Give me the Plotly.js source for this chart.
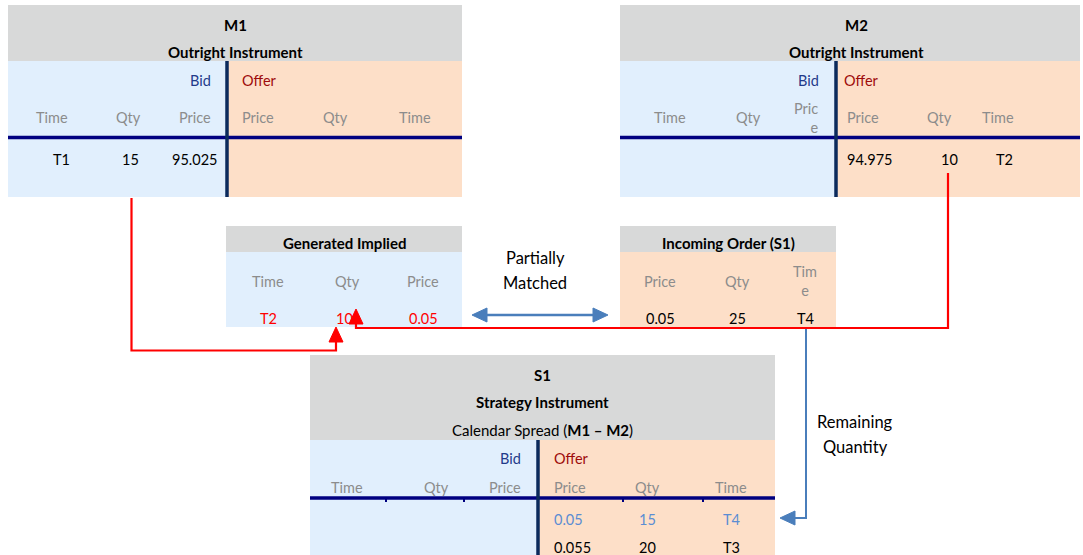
<!DOCTYPE html>
<html>
<head>
<meta charset="utf-8">
<script src="https://cdn.plot.ly/plotly-3.0.1.min.js"></script>
<style>html,body{margin:0;padding:0;background:#fff;}#chart{width:1083px;height:555px;}</style>
</head>
<body>
<div id="chart"></div>
<script>
// ---------- data ----------
const m1Title = 'M1';
const m2Title = 'M2';
const outrightSub = 'Outright Instrument';
const sideLabels = ['Bid', 'Offer'];
const bidHeaders = ['Time', 'Qty', 'Price'];
const offerHeaders = ['Price', 'Qty', 'Time'];
const m2BidHeaders = ['Time', 'Qty', 'Pric<br>e'];
const m1BidRow = ['T1', '15', '95.025'];
const m2OfferRow = ['94.975', '10', 'T2'];
const impliedTitle = 'Generated Implied';
const impliedHeaders = ['Time', 'Qty', 'Price'];
const impliedRow = ['T2', '10', '0.05'];
const incomingTitle = 'Incoming Order (S1)';
const incomingHeaders = ['Price', 'Qty', 'Tim<br>e'];
const incomingRow = ['0.05', '25', 'T4'];
const s1Title = 'S1';
const s1Sub = 'Strategy Instrument';
const s1Desc = 'Calendar Spread (<b>M1 – M2</b>)';
const s1OfferRemaining = ['0.05', '15', 'T4'];
const s1OfferResting = ['0.055', '20', 'T3'];
const matchLabel = ['Partially', 'Matched'];
const remainLabel = ['Remaining', 'Quantity'];

// ---------- styles ----------
const FONT = 'Lato, "Open Sans", sans-serif';
const GRAY_BG = '#d8d9d9', BLUE_BG = '#e1effd', PEACH_BG = '#fddfc8';
const HDR = '#8c8c8c', BIDC = '#1f3a8a', OFFC = '#9e0b0b';
const NAVY_H = '#000080', NAVY_V = '#0b2a5c';
const RED = '#ff0000', ARROW_BLUE = '#4a7ebb', ROW_BLUE = '#5b8dd3';

const annotations = [];
function txt(text, x, y, opt) {
  opt = opt || {};
  annotations.push({
    text: text, x: x, y: y, xref: 'x', yref: 'y', showarrow: false,
    xanchor: opt.anchor || 'center', yanchor: 'middle',
    align: opt.align || (opt.anchor === 'right' ? 'right' : (opt.anchor === 'left' ? 'left' : 'center')),
    font: {family: FONT, size: opt.size || 14.5, color: opt.color || '#000'}
  });
}
const shapes = [];
function rect(x0, y0, x1, y1, color) {
  shapes.push({type: 'rect', xref: 'x', yref: 'y', x0: x0, y0: y0, x1: x1, y1: y1,
    fillcolor: color, line: {width: 0}, layer: 'below'});
}
function line(x0, y0, x1, y1, color, w) {
  shapes.push({type: 'line', xref: 'x', yref: 'y', x0: x0, y0: y0, x1: x1, y1: y1,
    line: {color: color, width: w}});
}
function path(d, color, w, fill) {
  shapes.push({type: 'path', xref: 'x', yref: 'y', path: d,
    line: {color: color, width: w}, fillcolor: fill || 'rgba(0,0,0,0)'});
}

// ---------- M1 ----------
rect(8, 5, 462, 61, GRAY_BG);
rect(8, 61, 227, 197, BLUE_BG);
rect(227, 61, 462, 197, PEACH_BG);
line(8, 137.5, 462, 137.5, NAVY_H, 3.5);
line(227, 61, 227, 197, NAVY_V, 3.5);
txt('<b>' + m1Title + '</b>', 235, 25, {size: 15});
txt('<b>' + outrightSub + '</b>', 235, 52, {size: 15});
txt(sideLabels[0], 213, 80, {anchor: 'right', color: BIDC});
txt(sideLabels[1], 240, 80, {anchor: 'left', color: OFFC});
txt(bidHeaders[0], 52, 117, {color: HDR});
txt(bidHeaders[1], 128, 117, {color: HDR});
txt(bidHeaders[2], 213, 117, {anchor: 'right', color: HDR});
txt(offerHeaders[0], 240, 117, {anchor: 'left', color: HDR});
txt(offerHeaders[1], 335, 117, {color: HDR});
txt(offerHeaders[2], 415, 117, {color: HDR});
txt(m1BidRow[0], 61, 159);
txt(m1BidRow[1], 130, 159);
txt(m1BidRow[2], 219, 159, {anchor: 'right'});

// ---------- M2 ----------
rect(620, 5, 1080, 61, GRAY_BG);
rect(620, 61, 836, 197, BLUE_BG);
rect(836, 61, 1080, 197, PEACH_BG);
line(620, 137.5, 1080, 137.5, NAVY_H, 3.5);
line(836, 61, 836, 197, NAVY_V, 3.5);
txt('<b>' + m2Title + '</b>', 856, 25, {size: 15});
txt('<b>' + outrightSub + '</b>', 856, 52, {size: 15});
txt(sideLabels[0], 821, 80, {anchor: 'right', color: BIDC});
txt(sideLabels[1], 842, 80, {anchor: 'left', color: OFFC});
txt(m2BidHeaders[0], 670, 117, {color: HDR});
txt(m2BidHeaders[1], 748, 117, {color: HDR});
txt(m2BidHeaders[2], 821, 118, {anchor: 'right', color: HDR});
txt(offerHeaders[0], 845, 117, {anchor: 'left', color: HDR});
txt(offerHeaders[1], 939, 117, {color: HDR});
txt(offerHeaders[2], 998, 117, {color: HDR});
txt(m2OfferRow[0], 845, 159, {anchor: 'left'});
txt(m2OfferRow[1], 949, 159);
txt(m2OfferRow[2], 1004, 159);

// ---------- Generated Implied ----------
rect(226, 226, 462, 252, GRAY_BG);
rect(226, 252, 462, 327, BLUE_BG);
txt('<b>' + impliedTitle + '</b>', 344, 243, {size: 15});
txt(impliedHeaders[0], 268, 281, {color: HDR});
txt(impliedHeaders[1], 347, 281, {color: HDR});
txt(impliedHeaders[2], 423, 281, {color: HDR});
txt(impliedRow[0], 268, 318, {color: RED});
txt(impliedRow[1], 344, 318, {color: RED});
txt(impliedRow[2], 423, 318, {color: RED});

// ---------- Incoming Order ----------
rect(620, 226, 836, 252, GRAY_BG);
rect(620, 252, 836, 327, PEACH_BG);
txt('<b>' + incomingTitle + '</b>', 728, 243, {size: 15});
txt(incomingHeaders[0], 660, 281, {color: HDR});
txt(incomingHeaders[1], 737, 281, {color: HDR});
txt(incomingHeaders[2], 805, 281, {color: HDR});
txt(incomingRow[0], 660, 318);
txt(incomingRow[1], 737, 318);
txt(incomingRow[2], 805, 318);

// ---------- Partially matched ----------
txt(matchLabel[0], 535, 258, {size: 16.5});
txt(matchLabel[1], 535, 283, {size: 16.5});
path('M486,315 H594', ARROW_BLUE, 2.5);
path('M487,308 L487,322 L472,315 Z', ARROW_BLUE, 1, ARROW_BLUE);
path('M593,308 L593,322 L608,315 Z', ARROW_BLUE, 1, ARROW_BLUE);

// ---------- S1 ----------
rect(310, 355, 775, 440, GRAY_BG);
rect(310, 440, 538, 555, BLUE_BG);
rect(538, 440, 775, 555, PEACH_BG);
line(310, 498, 775, 498, NAVY_H, 3.5);
line(538, 440, 538, 555, NAVY_V, 3.5);
[386, 464, 623, 703].forEach(function (tx) { line(tx, 498, tx, 502, NAVY_H, 2); });
txt('<b>' + s1Title + '</b>', 542, 375, {size: 15});
txt('<b>' + s1Sub + '</b>', 542, 402, {size: 15});
txt(s1Desc, 542, 430, {size: 15});
txt(sideLabels[0], 523, 458, {anchor: 'right', color: BIDC});
txt(sideLabels[1], 552, 458, {anchor: 'left', color: OFFC});
txt(bidHeaders[0], 347, 487, {color: HDR});
txt(bidHeaders[1], 436, 487, {color: HDR});
txt(bidHeaders[2], 523, 487, {anchor: 'right', color: HDR});
txt(offerHeaders[0], 552, 487, {anchor: 'left', color: HDR});
txt(offerHeaders[1], 647, 487, {color: HDR});
txt(offerHeaders[2], 731, 487, {color: HDR});
txt(s1OfferRemaining[0], 552, 519, {anchor: 'left', color: ROW_BLUE});
txt(s1OfferRemaining[1], 647, 519, {color: ROW_BLUE});
txt(s1OfferRemaining[2], 731, 519, {color: ROW_BLUE});
txt(s1OfferResting[0], 552, 547, {anchor: 'left'});
txt(s1OfferResting[1], 647, 547);
txt(s1OfferResting[2], 731, 547);

// ---------- Remaining quantity connector ----------
txt(remainLabel[0], 855, 422, {size: 16.5});
txt(remainLabel[1], 855, 447, {size: 16.5});
path('M806,327 V518 H795', ARROW_BLUE, 2);
path('M795,511 L795,525 L780,518 Z', ARROW_BLUE, 1, ARROW_BLUE);

// ---------- red implied connectors ----------
path('M131.5,198 V350.5 H336 V342', RED, 2.2);
path('M329,342 L343,342 L336,327 Z', RED, 1, RED);
path('M948,173 V328 H356 V324', RED, 2.2);
path('M349,324 L363,324 L356,309 Z', RED, 1, RED);

const layout = {
  width: 1083, height: 555,
  margin: {l: 0, r: 0, t: 0, b: 0, pad: 0},
  paper_bgcolor: '#ffffff', plot_bgcolor: '#ffffff',
  showlegend: false,
  xaxis: {range: [0, 1083], visible: false, fixedrange: true},
  yaxis: {range: [555, 0], visible: false, fixedrange: true},
  shapes: shapes,
  annotations: annotations
};
Plotly.newPlot('chart', [{x: [], y: [], type: 'scatter', mode: 'markers', hoverinfo: 'skip'}], layout,
  {displayModeBar: false, staticPlot: true});
</script>
</body>
</html>
